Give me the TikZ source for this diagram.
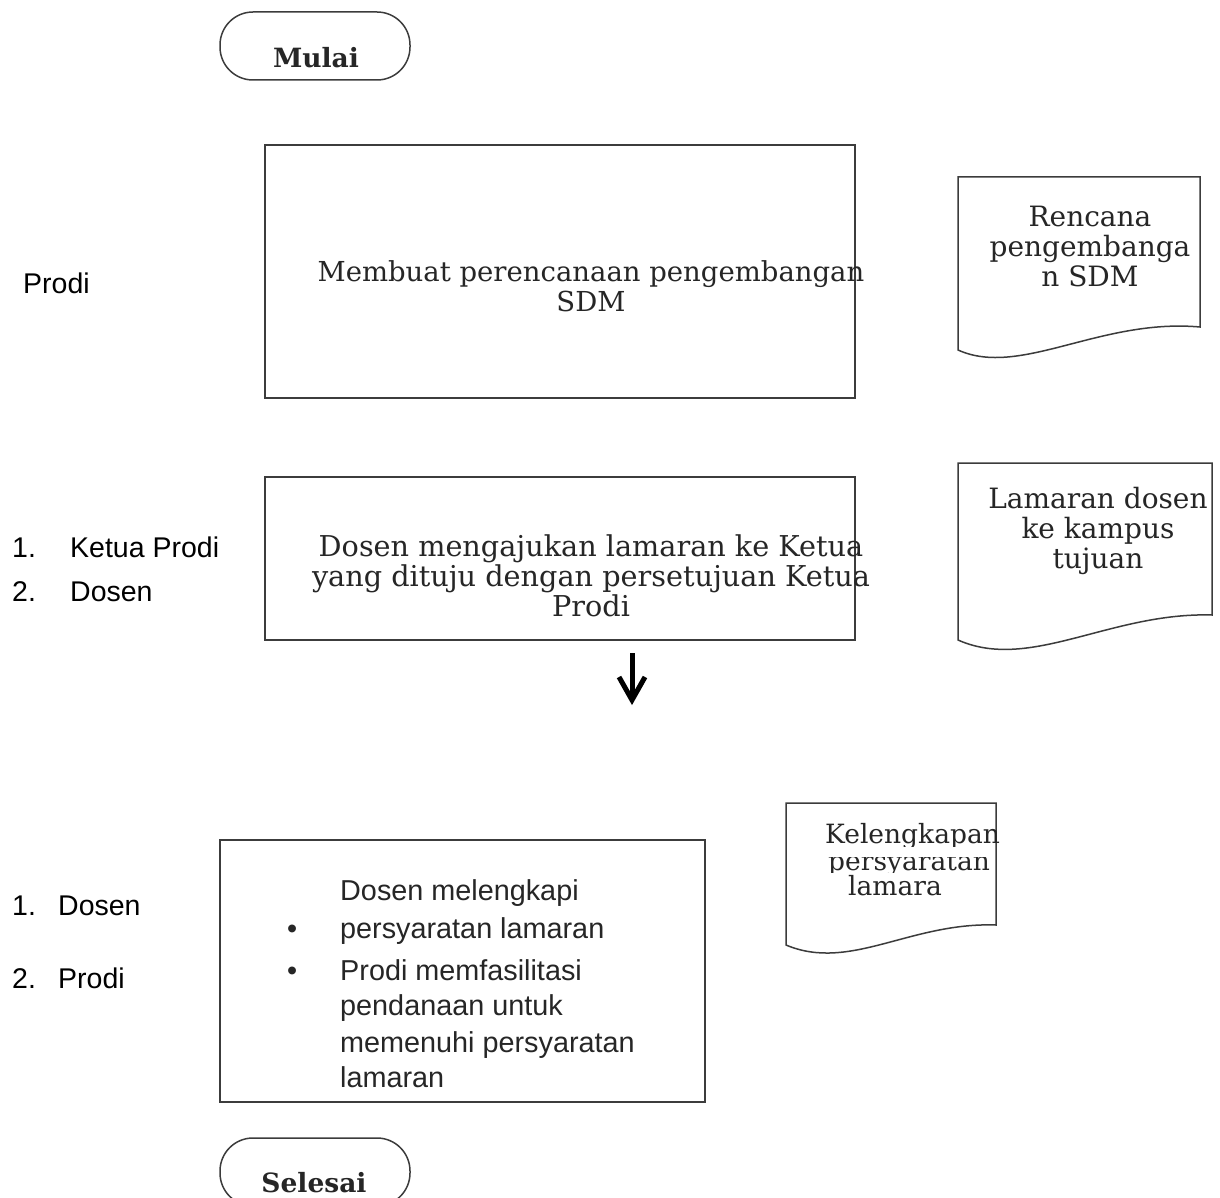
\documentclass[tikz,border=0pt]{standalone}
\usepackage{fontspec}
\setmainfont{DejaVu Serif}
\newfontfamily\arialfont{Liberation Sans}
\usetikzlibrary{arrows.meta}
\definecolor{linec}{HTML}{3C3C3C}
\definecolor{textc}{HTML}{262626}
\tikzset{
  box/.style={draw=linec, line width=1.5pt},
  term/.style={draw=linec, line width=1.5pt, rounded corners=33pt},
  doc/.style={draw=linec, line width=1.5pt},
  bigserif/.style={inner sep=0pt, text=textc, align=center, font=\fontsize{27.5}{30}\selectfont},
  docser/.style={inner sep=0pt, text=textc, align=center, font=\fontsize{28}{30}\selectfont},
  sanslabel/.style={inner sep=0pt, text=black, anchor=base west, font=\arialfont\fontsize{28.5}{34}\selectfont},
  termtext/.style={inner sep=0pt, text=textc, anchor=base, font=\bfseries\fontsize{26.5}{28}\selectfont},
  kel/.style={inner sep=0pt, anchor=base west, text=textc, font=\fontsize{26.5}{28}\selectfont},
  arrowline/.style={line width=5pt, black},
}
\begin{document}
\begin{tikzpicture}[x=1pt,y=-1pt]
\useasboundingbox (0,0) rectangle (1220,1198);
\fill[white] (0,0) rectangle (1220,1198);
% Mulai
\draw[term] (220,12) rectangle (410,80);
\node[termtext] (mulai) at (316,68) {Mulai};
% Box 1
\draw[box] (265,145) rectangle (855,398);
\node[bigserif] (t1) at (591,286) {Membuat perencanaan pengembangan\\SDM};
\node[sanslabel] (l1) at (23,293) {Prodi};
% Doc 1
\draw[doc] (958,177) -- (1200,177) -- (1200,327) .. controls (1100,318) and (1020,378) .. (958,350) -- cycle;
\node[docser] (d1) at (1090,246) {Rencana\\pengembanga\\n SDM};
% Box 2
\draw[box] (265,477) rectangle (855,640);
\node[bigserif, font=\fontsize{28.7}{30}\selectfont] (t2) at (591,576) {Dosen mengajukan lamaran ke Ketua\\yang dituju dengan persetujuan Ketua\\Prodi};
\node[sanslabel] (l2a) at (12,557) {1.};
\node[sanslabel] (l2b) at (70,557) {Ketua Prodi};
\node[sanslabel] (l2c) at (12,601) {2.};
\node[sanslabel] (l2d) at (70,601) {Dosen};
% Doc 2
\draw[doc] (958,463) -- (1212,463) -- (1212,615) .. controls (1110,612) and (1030,672) .. (958,640) -- cycle;
\node[docser] (d2) at (1098,531) {Lamaran dosen\\ke kampus\\tujuan};
% Arrow
\coordinate (as) at (632,653);
\coordinate (ae) at (632,700);
\draw[arrowline] (as) -- (ae);
\draw[arrowline, line join=miter] (ae) ++(-13,-23) -- (ae) -- ++(13,-23);
% Box 3
\draw[box] (220,840) rectangle (705,1102);
\begin{scope}[every node/.style={inner sep=0pt, anchor=base west, text=textc, font=\arialfont\fontsize{28.8}{34}\selectfont}]
\node (b1) at (340,900) {Dosen melengkapi};
\node (b2) at (340,938) {persyaratan lamaran};
\node (b3) at (340,980) {Prodi memfasilitasi};
\node (b4) at (340,1015) {pendanaan untuk};
\node (b5) at (340,1052) {memenuhi persyaratan};
\node (b6) at (340,1087) {lamaran};
\node (bu1) at (287,938) {•};
\node (bu2) at (287,980) {•};
\end{scope}
\node[sanslabel] (l3a) at (12,915) {1.};
\node[sanslabel] (l3b) at (58,915) {Dosen};
\node[sanslabel] (l3c) at (12,988) {2.};
\node[sanslabel] (l3d) at (58,988) {Prodi};
% Doc 3
\draw[doc] (786,803) -- (996,803) -- (996,925) .. controls (910,922) and (850,972) .. (786,945) -- cycle;
\begin{scope}
\clip (780,800) rectangle (1020,846);
\node[kel] (k1) at (825,843) {Kelengkapan};
\end{scope}
\begin{scope}
\clip (780,857) rectangle (1020,872.5);
\node[kel] (k2) at (828,870) {persyaratan};
\end{scope}
\node[kel] (k3) at (848,895) {lamara};
% Selesai
\draw[term] (220,1138) rectangle (410,1206);
\node[termtext] (selesai) at (314,1192) {Selesai};
\end{tikzpicture}
\end{document}
